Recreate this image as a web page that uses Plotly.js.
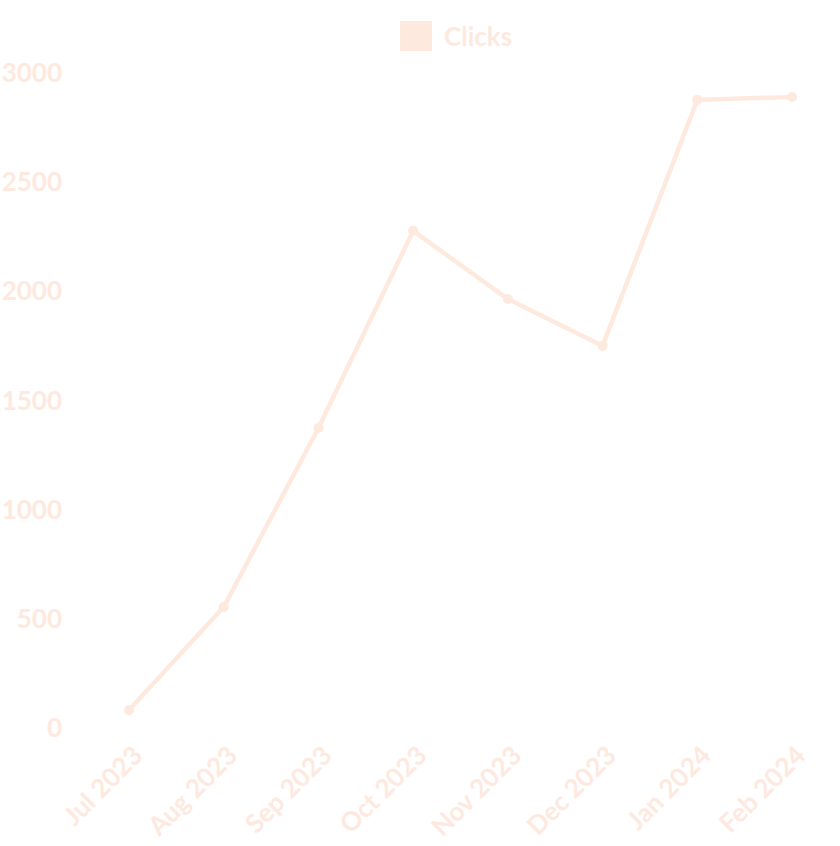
<!DOCTYPE html>
<html>
<head>
<meta charset="utf-8">
<script src="https://cdn.plot.ly/plotly-3.0.1.min.js"></script>
<style>html,body{margin:0;padding:0;background:#fff;}#chart{width:840px;height:846px;}</style>
</head>
<body>
<div id="chart"></div>
<script>
const seriesName = 'Clicks';
const months = ['Jul 2023','Aug 2023','Sep 2023','Oct 2023','Nov 2023','Dec 2023','Jan 2024','Feb 2024'];
const clicks = [82, 554, 1374, 2277, 1965, 1750, 2877, 2890];
const yTicks = [0, 500, 1000, 1500, 2000, 2500, 3000];

const color = '#fee9df';
const font = {family: 'Lato, sans-serif', size: 26, color: color, weight: 700};

const trace = {
  x: months, y: clicks, type: 'scatter', mode: 'lines+markers',
  name: seriesName, showlegend: false, cliponaxis: false,
  line: {color: color, width: 4.5},
  marker: {color: color, size: 10}
};

const layout = {
  width: 840, height: 846,
  margin: {l: 129, r: 48, t: 73, b: 118},
  paper_bgcolor: '#fff', plot_bgcolor: '#fff',
  font: font,
  showlegend: false,
  xaxis: {type: 'category', range: [0, months.length - 1], showgrid: false, zeroline: false,
    showline: false, ticks: '', tickangle: -45, tickfont: font, ticklabelstandoff: 6, ticklabelshift: 6},
  yaxis: {range: [0, 3000], tickvals: yTicks, showgrid: false, zeroline: false, showline: false,
    ticks: '', tickfont: font, ticklabelstandoff: 66},
  shapes: [{type: 'rect', xref: 'paper', yref: 'paper', x0: (400-129)/663, x1: (432-129)/663,
    y0: (846-118-51)/655, y1: (846-118-21)/655, fillcolor: color, line: {width: 0}}],
  annotations: [{text: seriesName, xref: 'paper', yref: 'paper', x: (442-129)/663, y: (846-118-36)/655,
    xanchor: 'left', yanchor: 'middle', showarrow: false, font: font}]
};

Plotly.newPlot('chart', [trace], layout, {displayModeBar: false, staticPlot: true});
</script>
</body>
</html>
